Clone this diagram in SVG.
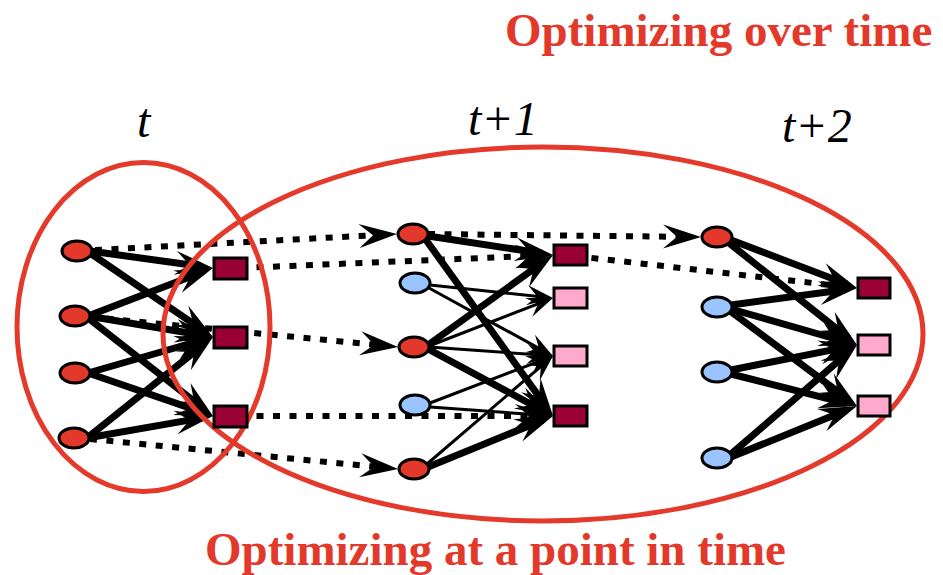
<svg xmlns="http://www.w3.org/2000/svg" width="943" height="575" viewBox="0 0 943 575">
<defs>
<marker id="ah" viewBox="-40 -13 42 26" refX="-11" refY="0" markerWidth="42" markerHeight="26" markerUnits="userSpaceOnUse" orient="auto">
<path d="M0,0 L-38,-12 L-24,0 L-38,12 Z" fill="#000"/>
</marker>
<marker id="ahs" viewBox="-30 -11 32 22" refX="-5" refY="0" markerWidth="32" markerHeight="22" markerUnits="userSpaceOnUse" orient="auto">
<path d="M0,0 L-26,-10 L-16,0 L-26,10 Z" fill="#000"/>
</marker>
<style>
.thick{stroke:#000;stroke-width:7;fill:none;marker-end:url(#ah)}
.thin{stroke:#000;stroke-width:3;fill:none;marker-end:url(#ahs)}
.dot{stroke:#000;stroke-width:6;fill:none;stroke-dasharray:7 9.5;marker-end:url(#ah)}
.ring{fill:none;stroke:#e43a2b;stroke-width:5}
.red{fill:#e3392b;stroke:#000;stroke-width:3}
.blue{fill:#99c4ff;stroke:#000;stroke-width:3}
.dark{fill:#990033;stroke:#000;stroke-width:3}
.pink{fill:#ffaacc;stroke:#000;stroke-width:3}
.title{font-weight:bold;font-size:47px;fill:#e3392b}
.time{font-style:italic;font-size:48px;fill:#000}
</style>
</defs>
<rect width="943" height="575" fill="#fff"/>

<g id="connectors">
<line class="dot" x1="95" y1="250" x2="386" y2="234.6"/>
<line class="dot" x1="240" y1="268" x2="542" y2="255.5"/>
<line class="dot" x1="90" y1="317" x2="387.1" y2="345.9"/>
<line class="dot" x1="240" y1="416" x2="542" y2="416"/>
<line class="dot" x1="90" y1="439" x2="387.1" y2="467.9"/>
<line class="dot" x1="428" y1="234" x2="690" y2="236.9"/>
<line class="dot" x1="575" y1="256" x2="846.1" y2="286.8"/>
<line class="thick" x1="90" y1="251" x2="202.1" y2="266.5"/>
<line class="thick" x1="90" y1="253" x2="203.9" y2="330.8"/>
<line class="thick" x1="88" y1="316" x2="202.7" y2="271.9"/>
<line class="thick" x1="88" y1="316" x2="202.2" y2="335.2"/>
<line class="thick" x1="88" y1="318" x2="204.3" y2="409.2"/>
<line class="thick" x1="88" y1="373" x2="202.4" y2="340"/>
<line class="thick" x1="88" y1="373" x2="202.6" y2="412.4"/>
<line class="thick" x1="87" y1="438" x2="204.4" y2="343.9"/>
<line class="thick" x1="87" y1="438" x2="202.2" y2="417.9"/>
<line class="thick" x1="428" y1="236" x2="542.1" y2="253.3"/>
<line class="thick" x1="426" y1="240" x2="546.6" y2="407.1"/>
<line class="thick" x1="428" y1="345" x2="544.1" y2="261.4"/>
<line class="thick" x1="428" y1="349" x2="543.3" y2="410.8"/>
<line class="thick" x1="428" y1="467" x2="542.8" y2="420.2"/>
<line class="thin" x1="430" y1="285" x2="548" y2="297.5"/>
<line class="thin" x1="429" y1="288" x2="548.6" y2="353.6"/>
<line class="thin" x1="429" y1="346" x2="548.3" y2="299.8"/>
<line class="thin" x1="429" y1="347" x2="548" y2="355.6"/>
<line class="thin" x1="430" y1="403" x2="548.3" y2="357.8"/>
<line class="thin" x1="430" y1="407" x2="548" y2="415.6"/>
<line class="thin" x1="427" y1="464" x2="549.2" y2="359.3"/>
<line class="thick" x1="731" y1="240" x2="846.7" y2="284.1"/>
<line class="thick" x1="729" y1="243" x2="848.4" y2="338.1"/>
<line class="thick" x1="731" y1="305" x2="846.1" y2="289.5"/>
<line class="thick" x1="731" y1="309" x2="846.4" y2="342"/>
<line class="thick" x1="730" y1="311" x2="848.2" y2="399.4"/>
<line class="thick" x1="731" y1="370" x2="846.2" y2="347.1"/>
<line class="thick" x1="731" y1="374" x2="846.3" y2="403.3"/>
<line class="thick" x1="730" y1="455" x2="848.7" y2="352.2"/>
<line class="thick" x1="731" y1="457" x2="846.8" y2="410.1"/>
</g>

<g id="regions">
<ellipse id="point-in-time" class="ring" cx="143.5" cy="327" rx="126.5" ry="164.5"/>
<ellipse id="over-time" class="ring" cx="543" cy="334" rx="380" ry="187"/>
</g>

<g id="t-r1"><ellipse class="red" cx="77" cy="251" rx="15" ry="10"/></g>
<g id="t-r2"><ellipse class="red" cx="75" cy="316" rx="15" ry="10"/></g>
<g id="t-r3"><ellipse class="red" cx="75" cy="373" rx="15" ry="10"/></g>
<g id="t-r4"><ellipse class="red" cx="74" cy="438" rx="15" ry="10"/></g>
<g id="t-d1"><rect class="dark" x="214" y="258" width="33" height="21"/></g>
<g id="t-d2"><rect class="dark" x="214" y="327" width="33" height="21"/></g>
<g id="t-d3"><rect class="dark" x="214" y="406" width="33" height="21"/></g>

<g id="t1-r1"><ellipse class="red" cx="413" cy="234" rx="15" ry="10"/></g>
<g id="t1-b1"><ellipse class="blue" cx="415" cy="283" rx="15" ry="10"/></g>
<g id="t1-r2"><ellipse class="red" cx="414" cy="347" rx="15" ry="10"/></g>
<g id="t1-b2"><ellipse class="blue" cx="415" cy="405" rx="15" ry="10"/></g>
<g id="t1-r3"><ellipse class="red" cx="414" cy="469" rx="15" ry="10"/></g>
<g id="t1-d1"><rect class="dark" x="554" y="245" width="33" height="20"/></g>
<g id="t1-p1"><rect class="pink" x="554" y="288" width="33" height="20"/></g>
<g id="t1-p2"><rect class="pink" x="554" y="346" width="33" height="20"/></g>
<g id="t1-d2"><rect class="dark" x="554" y="406" width="33" height="20"/></g>

<g id="t2-r1"><ellipse class="red" cx="717" cy="237" rx="15" ry="10"/></g>
<g id="t2-b1"><ellipse class="blue" cx="717" cy="307" rx="15" ry="10"/></g>
<g id="t2-b2"><ellipse class="blue" cx="717" cy="372" rx="15" ry="10"/></g>
<g id="t2-b3"><ellipse class="blue" cx="717" cy="458" rx="15" ry="10"/></g>
<g id="t2-d1"><rect class="dark" x="858" y="278" width="32" height="20"/></g>
<g id="t2-p1"><rect class="pink" x="858" y="335" width="32" height="20"/></g>
<g id="t2-p2"><rect class="pink" x="858" y="396" width="32" height="20"/></g>

<g id="labels" font-family="'Liberation Serif', 'DejaVu Serif', serif">
<text class="title" x="505" y="46">Optimizing over time</text>
<text class="title" x="205" y="565">Optimizing at a point in time</text>
<text class="time" x="137" y="137">t</text>
<text class="time" x="468" y="135">t+1</text>
<text class="time" x="782" y="142">t+2</text>
</g>
</svg>
